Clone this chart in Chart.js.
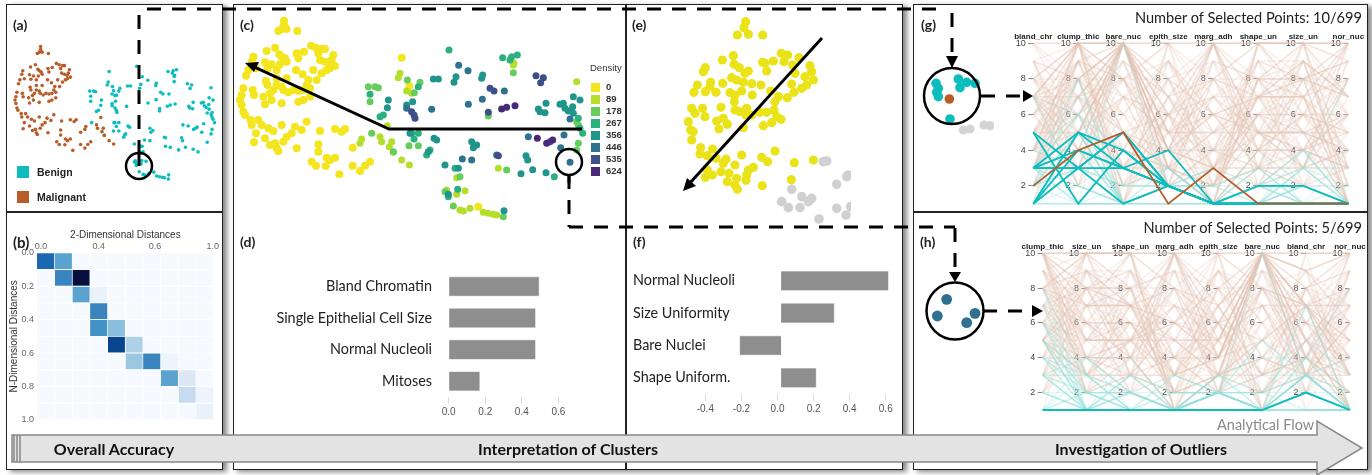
<!DOCTYPE html>
<html>
<head>
<meta charset="utf-8">
<title>Cluster analysis views</title>
<script src="https://cdn.jsdelivr.net/npm/chart.js@4/dist/chart.umd.min.js"></script>
<style>
  html, body { margin: 0; padding: 0; background: #fff; }
  body { position: relative; width: 1372px; height: 475px; overflow: hidden; font-family: Lato, sans-serif; }
  canvas { position: absolute; }
  .frame { position: absolute; border: 1.5px solid #222; box-sizing: border-box; background: #fff; box-shadow: 4px 2px 5px #888; }
  .rule { position: absolute; background: #222; }
  .t { position: absolute; white-space: nowrap; line-height: 1; z-index: 5; transform: translateY(-50%); }
  .tag { font-weight: 700; font-size: 14px; color: #222; }
  .count { font-size: 14.6px; color: #222; transform: translate(-100%, -50%); }
  .band { font-weight: 700; font-size: 16px; color: #111; transform: translate(-50%, -50%); }
  .key { position: absolute; z-index: 5; }
  .arial { font-family: "Liberation Sans", sans-serif; }
  svg { position: absolute; left: 0; top: 0; z-index: 4; }
</style>
</head>
<body>
<div class="frame" style="left:6px;top:4px;width:217px;height:466px"></div>
<div class="rule" style="left:6px;top:211px;width:217px;height:1.5px"></div>
<div class="frame" style="left:233px;top:4px;width:670px;height:466px"></div>
<div class="rule" style="left:625px;top:4px;width:1.5px;height:466px"></div>
<div class="frame" style="left:913px;top:4px;width:455px;height:466px"></div>
<div class="rule" style="left:913px;top:211px;width:455px;height:1.5px"></div>

<svg width="1372" height="475">
  <g fill="none" stroke="#000">
    <!-- dashed links between the views -->
    <path d="M139 154V13M147 9H945M952 13V56" stroke-width="3" stroke-dasharray="14 11"/>
    <path d="M569 175V227M569 227H955M955 228V272" stroke-width="3" stroke-dasharray="14 11"/>
    <path d="M139 166V152" stroke-width="3"/>
    <path d="M569 175V183" stroke-width="3"/>
    <circle cx="139" cy="166" r="13" stroke-width="2.5"/>
    <circle cx="569" cy="162" r="13" stroke-width="2.5"/>
    <circle cx="952" cy="96" r="28" stroke-width="2.5"/>
    <circle cx="955" cy="311" r="28.5" stroke-width="2.5"/>
    <path d="M980 96H995M1006 96H1020" stroke-width="3"/>
    <path d="M984 311H997M1008 311H1022" stroke-width="3"/>
    <path d="M582 129H389L252 66" stroke-width="3"/>
    <path d="M822 38L689 184" stroke-width="3"/>
  </g>
  <g fill="#000">
    <path d="M952 68L946 56H958Z"/>
    <path d="M955 282L949 272H961Z"/>
    <path d="M1033 96L1023 90V102Z"/>
    <path d="M1043 311L1032 305V317Z"/>
    <path d="M245 63L259 62L254 72Z"/>
    <path d="M683 191L687 178L696 186Z"/>
  </g>
  <!-- process band -->
  <path d="M12 435H1317V421L1362 448L1317 475V462H12Z" fill="#e3e3e3" stroke="#888" stroke-width="1.5"/>
  <path d="M14 435V462M17 435V462M20 435V462" stroke="#888" stroke-width="1.5"/>
</svg>

<div class="t tag" style="left:13px;top:25px">(a)</div>
<div class="t tag" style="left:13px;top:242px;font-size:15px">(b)</div>
<div class="t tag" style="left:240px;top:25px">(c)</div>
<div class="t tag" style="left:240px;top:242px">(d)</div>
<div class="t tag" style="left:632px;top:25px">(e)</div>
<div class="t tag" style="left:633px;top:242px">(f)</div>
<div class="t tag" style="left:921px;top:25px">(g)</div>
<div class="t tag" style="left:920px;top:242px">(h)</div>
<div class="t count" style="left:1362px;top:18px">Number of Selected Points: 10/699</div>
<div class="t count" style="left:1362px;top:228px">Number of Selected Points: 5/699</div>
<div class="t band" style="left:114px;top:449px">Overall Accuracy</div>
<div class="t band" style="left:568px;top:449px">Interpretation of Clusters</div>
<div class="t band" style="left:1141px;top:449px">Investigation of Outliers</div>
<div class="t" style="left:1217px;top:425px;font-size:14.5px;color:#8a8a8a">Analytical Flow</div>

<div class="key" style="left:17px;top:166px;width:12px;height:12px;background:#0dbdbd"></div>
<div class="key" style="left:17px;top:191px;width:12px;height:12px;background:#b85c2a"></div>
<div class="t arial" style="left:37px;top:172px;font-size:10.5px;font-weight:700;color:#222">Benign</div>
<div class="t arial" style="left:37px;top:197px;font-size:10.5px;font-weight:700;color:#222">Malignant</div>
<div class="t arial" style="left:590px;top:68px;font-size:9.5px;color:#333">Density</div>
<div id="density-key"></div>

<script>
// t-SNE layout, one list per density bin
const density0 = [[162,47],[162,60],[155,72],[170,72],[145,78],[202,78],[110,138],[135,128],[243,122],[258,128],[285,132],[275,132],[148,148],[200,145],[222,140],[205,160],[165,160],[155,155],[265,145],[270,165],[310,150],[305,165],[298,175],[285,170],[70,155],[65,170],[105,172],[125,178],[150,178],[170,170],[55,195],[48,212],[78,190],[112,192],[140,195],[170,220],[198,195],[218,208],[250,195],[290,195],[300,190],[315,183],[275,205],[260,225],[235,225],[230,240],[140,220],[108,228],[112,240],[140,240],[155,245],[130,255],[160,255],[175,262],[190,255],[205,258],[220,255],[240,250],[40,250],[35,270],[30,285],[68,255],[72,270],[100,275],[120,265],[125,285],[105,298],[155,295],[205,290],[220,285],[240,275],[35,300],[40,320],[45,330],[62,345],[85,345],[95,360],[65,360],[115,370],[130,378],[155,360],[78,385],[105,400],[72,412],[120,420],[135,415],[140,430],[160,410],[170,395],[185,385],[195,365],[215,375],[230,350],[200,430],[145,438],[265,418],[270,378],[265,440],[315,372],[335,380],[345,372],[245,470],[258,482],[290,458],[300,465],[315,458],[287,483],[328,508],[368,482],[368,428],[390,498],[405,482],[420,470],[515,158],[538,243],[745,605]];
const density89 = [[395,402],[390,415],[450,395],[455,410],[472,362],[485,410],[478,425],[515,465],[538,480],[490,442],[510,205],[505,218],[850,180],[852,175],[650,555],[705,557],[680,568],[690,615],[720,610],[700,618],[760,622],[775,625],[790,628],[800,630],[1040,230],[680,518],[805,490],[545,265],[530,258]];
const density178 = [[425,385],[415,245],[435,245],[445,248],[420,290],[532,225],[570,232],[537,422],[565,422],[490,440],[850,203],[775,333],[830,495],[645,560],[690,515],[670,603],[820,635],[1045,415],[1040,435],[1045,360],[1040,350],[553,263]];
const density267 = [[657,135],[818,158],[845,155],[862,150],[565,245],[545,385],[552,402],[565,385],[655,575],[683,553],[675,490],[973,515],[1045,340],[1050,370],[1058,385],[840,165],[450,335],[460,330],[420,268],[590,450],[600,435]];
const density356 = [[610,222],[625,222],[678,215],[672,232],[758,210],[755,220],[472,308],[475,285],[548,290],[530,300],[540,385],[620,405],[612,400],[725,410],[740,420],[730,428],[595,440],[645,480],[685,490],[655,568],[822,617],[925,312],[930,320],[945,323],[948,295],[1000,295],[990,298],[1005,310],[1030,275],[1050,285],[1028,305],[1015,318],[1030,325],[888,452],[893,465],[908,494],[948,503],[873,506]];
const density446 = [[686,181],[714,197],[715,298],[757,283],[605,313],[530,310],[823,258],[1020,342],[895,395],[1002,390],[1020,472],[992,428],[800,450],[725,465],[697,462]];
const density535 = [[918,212],[940,218],[932,233],[780,250],[792,258],[775,322],[545,320],[552,330],[555,340],[960,410],[805,452]];
const density624 = [[855,302],[830,307],[815,312],[922,400],[950,415],[968,405]];
const densityLabels = ['0', '89', '178', '267', '356', '446', '535', '624'];
const densityColors = ['#f4e61e', '#b5de2b', '#66cc5c', '#2bb07f', '#1f958b', '#2f7290', '#3d4e8a', '#482878'];

// panel (e), the selected cluster in its own projection
const cutYellow = [[377,50],[372,68],[352,90],[385,88],[428,90],[307,165],[340,152],[342,178],[358,188],[385,198],[375,205],[250,200],[256,188],[335,218],[350,225],[370,232],[395,236],[423,240],[232,240],[222,262],[256,260],[272,232],[270,245],[288,262],[308,235],[330,263],[345,270],[365,258],[397,270],[452,258],[435,175],[428,172],[440,198],[460,168],[484,145],[503,150],[492,170],[537,158],[518,180],[570,182],[525,205],[555,215],[575,200],[580,225],[515,237],[560,240],[545,250],[522,262],[502,278],[475,275],[465,290],[215,310],[225,325],[205,350],[212,375],[248,310],[255,335],[215,405],[220,380],[303,307],[290,348],[310,340],[297,372],[322,358],[343,290],[345,315],[380,310],[360,320],[378,330],[395,330],[420,322],[440,322],[462,315],[470,335],[483,343],[455,353],[430,362],[370,368],[242,428],[240,447],[278,432],[262,452],[288,460],[318,462],[310,475],[345,480],[365,450],[425,457],[443,470],[465,438],[400,487],[385,495],[380,510],[262,495],[256,517],[277,510],[303,500],[327,505],[322,530],[350,520],[352,553],[345,540],[378,526],[427,542],[523,473],[580,465],[514,524]];
const cutGray = [[620,468],[610,470],[685,510],[680,515],[650,538],[515,553],[545,575],[575,580],[565,590],[485,590],[505,608],[540,608],[650,610],[678,630],[597,642],[692,605]];

// lenses next to the parallel coordinates
const lensBenign = [[78,235],[85,250],[80,262],[85,275],[145,222],[150,248],[170,232],[195,235],[120,342]];
const lensMalignant = [[118,282]];
const lensGray = [[160,375],[180,372],[222,360],[240,362]];
const lensOutliers = [[110,253],[82,303],[195,295],[170,323]];

// confusion of 2D and nD distances, darker is more pairs
const distanceRows = [
  [.78, .55, 0, 0, 0, 0, 0, 0, 0, 0],
  [0, .74, 1, 0, 0, 0, 0, 0, 0, 0],
  [0, 0, .55, .1, 0, 0, 0, 0, 0, 0],
  [0, 0, 0, .7, 0, 0, 0, 0, 0, 0],
  [0, 0, 0, .66, .44, 0, 0, 0, 0, 0],
  [0, 0, 0, 0, .9, .3, 0, 0, 0, 0],
  [0, 0, 0, 0, 0, .38, .7, .08, 0, 0],
  [0, 0, 0, 0, 0, 0, 0, .55, .16, 0],
  [0, 0, 0, 0, 0, 0, 0, 0, .24, .06],
  [0, 0, 0, 0, 0, 0, 0, 0, 0, .12]
];
const distanceTickValues = [.023, .35, .667, .994];
const distanceTickLabels = ['0.0', '0.4', '0.6', '1.0'];

// feature contributions
const clusterOneFeatures = ['Bland Chromatin', 'Single Epithelial Cell Size', 'Normal Nucleoli', 'Mitoses'];
const clusterOneValues = [0.495, 0.475, 0.475, 0.17];
const clusterTwoFeatures = ['Normal Nucleoli', 'Size Uniformity', 'Bare Nuclei', 'Shape Uniform.'];
const clusterTwoValues = [0.615, 0.315, -0.21, 0.215];

// parallel coordinates, rows in rowColumns order
const rowColumns = ['clump_thic', 'size_un', 'shape_un', 'marg_adh', 'epith_size', 'bare_nuc', 'bland_chr', 'nor_nuc'];
const malignantRows = [
  [5,4,4,5,7,10,3,2],[6,8,8,1,3,4,3,7],[8,10,10,8,7,10,9,7],[5,3,3,3,2,3,4,4],[8,7,5,10,7,9,5,5],[7,4,6,4,6,1,4,3],[10,7,7,6,4,10,4,1],[7,3,2,10,5,10,5,4],[10,5,5,3,6,7,7,10],[5,2,3,4,2,7,3,6],
  [10,7,7,3,8,5,7,4],[10,10,10,8,6,1,8,9],[5,4,4,9,2,10,5,6],[2,5,3,3,6,7,7,5],[10,4,3,1,3,3,6,5],[6,10,10,2,8,10,7,3],[5,6,5,6,10,1,3,1],[10,10,10,4,8,1,8,10],[3,7,7,4,4,9,4,8],[7,8,7,2,4,8,3,8],
  [9,5,8,1,2,3,2,1],[5,3,3,4,2,4,3,4],[10,3,6,2,3,5,4,10],[5,5,5,8,10,8,7,3],[10,5,5,6,8,8,7,1],[10,6,6,3,4,5,3,6],[8,10,10,1,3,6,3,9],[8,2,4,1,5,1,5,4],[5,2,3,1,6,10,5,1],[9,5,5,2,2,2,5,1],
  [5,3,5,5,3,3,4,10],[9,10,10,1,10,8,3,3],[6,3,4,1,5,2,3,9],[10,4,2,1,3,2,4,3],[4,8,7,10,4,10,7,5],[8,10,8,8,4,8,7,7],[10,10,10,10,10,10,10,10],[7,5,6,3,3,8,7,4],[3,10,3,10,6,10,5,1],[6,9,7,5,5,8,4,2],
  [10,8,8,2,3,4,8,7],[8,4,4,1,6,10,2,5],[10,2,2,1,2,6,1,1],[7,7,7,6,4,10,3,1],[5,8,9,4,3,10,7,1],[3,6,6,6,5,10,6,8],[10,9,7,3,4,2,7,7],[8,6,4,10,10,1,3,5],[9,8,8,9,6,3,4,1],[6,5,5,8,4,10,3,4],
  [4,10,4,7,3,10,9,10],[2,7,10,10,7,10,4,9],[10,3,3,10,2,10,7,3],[8,8,9,6,6,3,10,10],[5,7,10,10,5,10,10,10],[7,2,4,1,3,4,3,3],[10,6,4,3,10,10,9,10],[3,3,5,2,3,10,7,1],[9,4,5,10,6,10,4,8],[8,7,8,5,5,10,9,10],
  [1,9,8,1,2,4,7,6],[10,8,10,1,3,10,5,1],[7,9,4,10,10,3,5,3],[4,4,4,4,6,5,7,3],[6,6,7,10,3,10,8,10],[8,3,5,4,5,10,1,6],[5,10,8,10,8,10,3,6],[10,8,4,4,4,10,3,10],[7,6,3,2,5,10,7,4],[5,8,7,7,10,10,5,7],
  [9,7,7,5,5,10,7,8],[2,6,10,10,4,10,8,3],[4,5,5,10,4,10,7,5],[8,5,6,2,3,10,6,6],[6,10,5,5,4,10,6,10],[10,4,7,2,2,8,6,1],[3,4,5,3,7,3,4,6],[7,10,10,3,4,10,10,1],[8,9,9,5,3,5,7,7],[10,10,7,8,7,1,10,10],
  [7,6,6,5,3,10,4,5],[4,7,8,3,4,10,9,1],[6,4,5,6,5,3,8,6],[9,3,7,2,9,6,5,8],[3,8,4,7,5,7,6,9],[8,5,9,7,3,2,6,4],[5,9,3,6,8,4,2,7],[7,2,8,9,4,5,6,3],[6,7,2,4,9,8,5,2],[4,6,9,2,7,3,8,5],
  [9,6,4,8,2,7,3,6],[2,8,6,5,9,4,7,9],[10,2,5,7,6,8,4,2],[6,5,8,3,7,9,2,4],[8,6,2,9,3,5,8,3],[3,9,7,8,6,2,5,7],[7,8,3,2,6,5,9,6],[4,3,6,9,8,7,2,8],[9,2,3,6,4,8,6,5],[5,7,6,2,3,9,8,4],
  [2,4,8,7,5,6,9,3],[6,2,9,4,7,3,5,8],[8,9,6,3,5,7,4,2],[7,4,2,5,9,6,8,9],[3,5,7,4,2,8,9,6],[9,7,2,3,8,4,6,3],[4,9,5,7,6,2,3,2],[5,8,3,6,9,7,2,9],[6,4,3,8,2,9,7,8],[8,3,7,6,9,2,4,7]
];
const benignRows = [
  [5,1,1,1,2,1,3,1],[3,1,1,1,2,2,3,1],[4,1,1,3,2,1,3,1],[1,1,1,1,2,10,3,1],[2,1,2,1,2,1,3,1],[2,1,1,1,2,1,1,1],[4,2,1,1,2,1,2,1],[1,1,1,1,1,1,3,1],[3,2,1,1,1,1,2,1],[6,1,1,1,2,1,3,1],
  [1,1,3,1,2,1,1,1],[2,1,1,2,2,1,3,1],[3,1,2,1,2,1,2,1],[6,2,1,1,1,1,7,1],[5,1,1,1,2,1,2,1],[4,2,2,1,2,1,2,1],[1,3,1,2,2,2,5,3],[5,2,1,1,2,1,3,1],[3,3,2,1,2,3,3,1],[1,2,1,3,2,1,2,1],
  [5,1,3,1,2,1,2,1],[3,1,1,1,3,1,2,1],[6,3,2,1,3,4,4,1],[4,1,1,1,2,5,3,1],[1,1,1,1,1,1,1,1],[2,1,3,2,2,1,2,1],[8,1,1,1,2,1,3,2],[5,1,2,1,3,1,1,1],[3,4,1,1,2,2,1,1],[1,4,2,1,2,1,3,1],
  [6,1,3,2,2,1,1,1],[4,3,1,1,2,1,4,8],[2,2,2,1,1,1,7,1],[7,1,2,3,2,1,2,1],[5,3,1,1,2,1,1,1],[3,2,2,2,2,1,4,2],[4,4,2,1,2,5,2,1],[1,2,2,1,2,1,1,1],[8,3,1,1,3,2,2,2],[3,1,4,1,2,2,3,4]
];

const gColumns = ['bland_chr', 'clump_thic', 'bare_nuc', 'epith_size', 'marg_adh', 'shape_un', 'size_un', 'nor_nuc'];
const gSelectedBenign = [[3,5,3,2,1,1,1,1],[5,3,5,2,1,1,1,1],[5,1,4,2,1,1,1,1],[1,3,5,2,1,2,2,1],[3,3,3,2,1,1,1,1],[3,4,3,4,1,1,1,1],[1,5,4,2,1,1,1,1],[3,3,1,2,1,1,1,1],[1,4,3,2,1,1,1,1]];
const gSelectedMalignant = [[2,4,5,1,3,1,1,1]];
const hColumns = ['clump_thic', 'size_un', 'shape_un', 'marg_adh', 'epith_size', 'bare_nuc', 'bland_chr', 'nor_nuc'];
const hSelectedBenign = [[1,1,1,1,1,1,2,1]];

const BENIGN = '#0dbdbd';
const MALIGNANT = '#b85c2a';
const BLUES = [[0,'#f6faff'],[.06,'#edf4fb'],[.1,'#e9f2fb'],[.16,'#dbe7f5'],[.24,'#c6dbef'],[.3,'#aed1e6'],[.38,'#9bc8e0'],[.44,'#8abfdd'],[.55,'#5aa2cf'],[.66,'#4291c7'],[.7,'#3a85c0'],[.78,'#1c68b0'],[.9,'#08458f'],[1,'#080f3e']];

function blue(value) {
  // nearest listed shade
  let best = BLUES[0];
  BLUES.forEach(stop => {
    if (Math.abs(stop[0] - value) < Math.abs(best[0] - value)) best = stop;
  });
  return best[1];
}

function addCanvas(left, top, width, height) {
  const canvas = document.createElement('canvas');
  canvas.width = width;
  canvas.height = height;
  canvas.style.left = left + 'px';
  canvas.style.top = top + 'px';
  canvas.style.zIndex = 2;
  document.body.appendChild(canvas);
  return canvas.getContext('2d');
}

function baseOptions(padding) {
  return {
    responsive: false,
    animation: false,
    events: [],
    layout: { autoPadding: false, padding },
    plugins: { legend: { display: false }, tooltip: { enabled: false } }
  };
}

function fixedSize(prop, size) {
  return scale => { scale[prop] = size; };
}

function dots(points, color, radius) {
  return { data: points, backgroundColor: color, borderWidth: 0, pointRadius: radius, clip: 0 };
}

function scatterView(ctx, xMin, xMax, yMin, yMax, datasets) {
  new Chart(ctx, {
    type: 'scatter',
    data: { datasets },
    options: {
      ...baseOptions(0),
      scales: {
        x: { display: false, min: xMin, max: xMax },
        y: { display: false, min: yMin, max: yMax, reverse: true }
      }
    }
  });
}

const allBins = [density0, density89, density178, density267, density356, density446, density535, density624];
const malignantPoints = density0.filter(p => p[0] < 450).concat(density89.filter(p => p[0] < 545 && p[1] > 350));
const benignPoints = allBins.flat().filter(p => !malignantPoints.includes(p));

// (a) classes on the projection
scatterView(addCanvas(8, 6, 212, 204), -6, 1086, -133, 773, [
  dots(malignantPoints, MALIGNANT, 1.8),
  dots(benignPoints, BENIGN, 1.8)
]);

// (b) distance heatmap, one stacked bar per row
new Chart(addCanvas(8, 229, 212, 206), {
  type: 'bar',
  data: {
    labels: distanceRows.map((_, i) => i),
    datasets: distanceRows[0].map((_, col) => ({
      data: distanceRows.map(() => 0.1),
      backgroundColor: distanceRows.map(row => blue(row[col])),
      borderColor: '#fff',
      borderWidth: 0.8,
      barPercentage: 1,
      categoryPercentage: 1
    }))
  },
  options: {
    ...baseOptions({ left: 0, right: 6, top: 0, bottom: 15 }),
    indexAxis: 'y',
    scales: {
      x: {
        position: 'top', stacked: true, min: 0, max: 1,
        afterFit: fixedSize('height', 23.7),
        afterBuildTicks: axis => { axis.ticks = distanceTickValues.map(value => ({ value })); },
        title: { display: true, text: '2-Dimensional Distances', color: '#333', font: { family: 'Liberation Sans', size: 10 }, padding: 0 },
        grid: { display: false, drawTicks: false }, border: { display: false },
        ticks: { color: '#666', font: { family: 'Liberation Sans', size: 9 }, padding: 1, maxRotation: 0, autoSkip: false,
          callback: (value, i) => distanceTickLabels[i] }
      },
      y: { stacked: true, display: false },
      y2: {
        type: 'linear', offset: false, position: 'left', min: 0, max: 1, reverse: true,
        afterFit: fixedSize('width', 29),
        title: { display: true, text: 'N-Dimensional Distances', color: '#333', font: { family: 'Liberation Sans', size: 10 }, padding: 0 },
        grid: { display: false, drawTicks: false }, border: { display: false },
        ticks: { stepSize: 0.2, color: '#666', font: { family: 'Liberation Sans', size: 9 }, padding: 3, autoSkip: false, callback: v => v.toFixed(1) }
      }
    }
  }
});

// (c) density on the projection, darker bins on top
scatterView(addCanvas(230, 5, 400, 225), 0, 1200, 0, 675,
  allBins.map((bin, i) => dots(bin, densityColors[i], i === 0 ? 4 : 3.5)).reverse());

// density legend swatches
document.getElementById('density-key').innerHTML = densityLabels.map((label, i) => {
  const y = 87 + i * 12;
  return `<div class="key" style="left:590.5px;top:${y - 4.5}px;width:9px;height:9px;background:${densityColors[i]}"></div>` +
    `<div class="t arial" style="left:606px;top:${y}px;font-size:9.5px;font-weight:700;color:#333">${label}</div>`;
}).join('');

// (e) selected cluster
scatterView(addCanvas(620, 5, 231, 225), 0, 693, 0, 675, [
  dots(cutYellow, '#ebe31a', 4.6),
  dots(cutGray, '#d0d0d0', 4.8)
]);

// (g) and (h) lenses
scatterView(addCanvas(920, 66, 74, 69), 30, 252, 183, 390, [
  dots(lensMalignant, MALIGNANT, 4.8),
  dots(lensBenign, BENIGN, 4.8),
  dots(lensGray, '#d4d4d4', 4.6)
]);
scatterView(addCanvas(925, 282, 60, 60), 45, 225, 201, 381, [dots(lensOutliers, '#2f7290', 5.4)]);

function featureBars(ctx, labels, values, options) {
  new Chart(ctx, {
    type: 'bar',
    data: {
      labels,
      datasets: [{ data: values, base: options.base, backgroundColor: '#8e8e8e', borderColor: '#d8d8d8', borderWidth: 0.8, barThickness: 19.5 }]
    },
    options: {
      ...baseOptions(options.padding),
      indexAxis: 'y',
      scales: {
        x: {
          min: options.min, max: options.max,
          afterFit: fixedSize('height', options.axisHeight),
          afterBuildTicks: axis => { axis.ticks = axis.ticks.filter(t => t.value > options.firstTick); },
          grid: { drawOnChartArea: false, drawTicks: true, tickLength: 7, color: '#dcdcdc' },
          border: { display: false },
          ticks: { stepSize: 0.2, includeBounds: false, color: '#555', font: { family: 'Liberation Sans', size: 10 }, padding: 2, callback: v => v.toFixed(1) }
        },
        y: {
          afterFit: fixedSize('width', options.axisWidth),
          // tick padding also pads the top of the axis, so the gap comes from tickLength
          grid: { display: false, drawTicks: true, tickLength: options.labelGap }, border: { display: false },
          ticks: { color: '#222', font: { family: 'Lato', size: 14.4 }, padding: 0, mirror: options.mirror, autoSkip: false }
        }
      }
    }
  });
}

// (d)
featureBars(addCanvas(270, 262, 385, 160), clusterOneFeatures, clusterOneValues, {
  base: 0, min: 0, max: 0.68, firstTick: -1, axisWidth: 178.7, axisHeight: 25, labelGap: 16.7, mirror: false,
  padding: { left: 0, right: 82, top: 5.5, bottom: 0 }
});
// (f) bars start a little right of the 0.0 tick in the picture, labels sit over the empty left part of the axis
featureBars(addCanvas(628, 256, 272, 165), clusterTwoFeatures, clusterTwoValues, {
  base: 0.02, min: -0.801, max: 0.679, firstTick: -0.5, axisWidth: 0, axisHeight: 27, labelGap: 0, mirror: true,
  padding: { left: 5, right: 0, top: 6.5, bottom: 0 }
});

function parallelChart(ctx, columns, area, selectedBenign, selectedMalignant) {
  const pick = row => columns.map(name => row[rowColumns.indexOf(name)]);
  const line = (data, color, width) => ({ data, borderColor: color, borderWidth: width, pointRadius: 0, tension: 0, fill: false, clip: 4 });
  const datasets = [
    ...selectedMalignant.map(row => line(row, MALIGNANT, 1.8)),
    ...selectedBenign.map(row => line(row, BENIGN, 1.8)),
    ...benignRows.map(row => line(pick(row), 'rgba(150,225,220,0.3)', 1.4)),
    ...malignantRows.map(row => line(pick(row), 'rgba(228,196,178,0.25)', 1.5))
  ];
  const scales = {
    x: {
      type: 'category', position: 'top', offset: false,
      afterFit: fixedSize('height', area.top),
      grid: { display: false, drawTicks: false }, border: { display: false },
      ticks: { color: '#222', font: { family: 'Liberation Sans', size: 8, weight: 'bold' }, padding: 2, maxRotation: 0, autoSkip: false }
    }
  };
  // one value axis per dimension
  columns.forEach((_, i) => {
    scales[i === 0 ? 'y' : 'y' + i] = {
      type: 'linear', position: { x: i }, min: 1, max: 10,
      grid: { display: false, drawTicks: false }, border: { display: false },
      ticks: { stepSize: 2, includeBounds: false, color: '#444', padding: 0, font: { family: 'Liberation Sans', size: 9 }, callback: v => v + ' \u2013' }
    };
  });
  new Chart(ctx, {
    type: 'line',
    data: { labels: columns, datasets },
    options: { ...baseOptions({ left: area.left, right: area.right, top: 0, bottom: area.bottom }), scales }
  });
}

// (g)
parallelChart(addCanvas(1000, 20, 372, 195), gColumns, { left: 33.3, right: 23.7, top: 23.3, bottom: 11.3 }, gSelectedBenign, gSelectedMalignant);
// (h)
parallelChart(addCanvas(1000, 230, 372, 190), hColumns, { left: 42.7, right: 22, top: 23.3, bottom: 10 }, hSelectedBenign, []);
</script>
</body>
</html>
